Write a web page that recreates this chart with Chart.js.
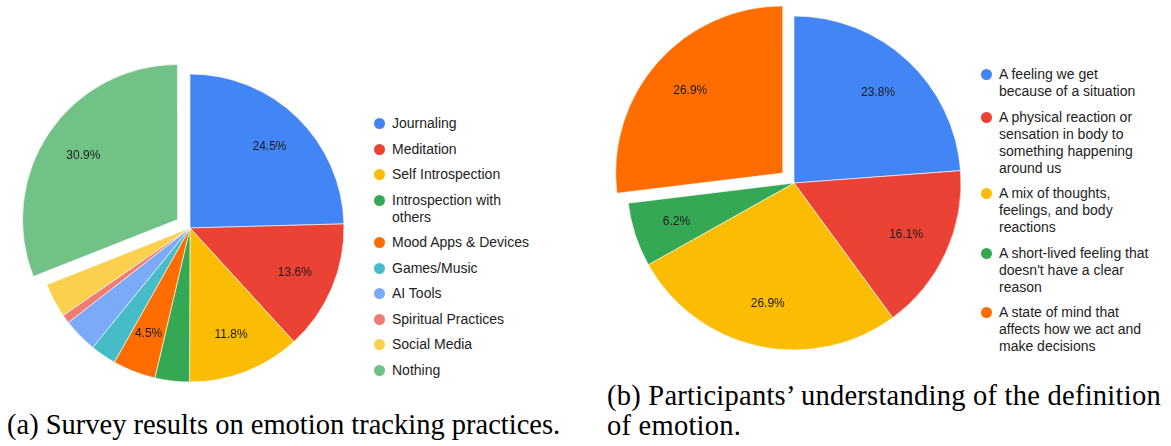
<!doctype html>
<html lang="en">

<head>
  <meta charset="UTF-8" />
  <script src="https://cdn.jsdelivr.net/npm/chart.js"></script>
  <title>Emotion survey</title>
  <style>
    body { margin: 0; width: 1171px; height: 446px; background: #fff; position: relative; overflow: hidden; }
    .pie { position: absolute; }
    .legend { position: absolute; list-style: none; margin: 0; padding: 0;
      font: 14px "Liberation Sans", Arial, sans-serif; line-height: 17px; color: #222; }
    .legend li { position: relative; margin-bottom: 8.5px; }
    .legend .dot { position: absolute; left: -18px; top: 3px; width: 11px; height: 11px; border-radius: 50%; }
    .caption { position: absolute; margin: 0; font: 28.5px "Liberation Serif", "Times New Roman", serif;
      line-height: 30px; color: #000; }
  </style>
</head>

<body>
  <div class="pie" style="left:10px;top:48px;width:360px;height:360px"><canvas id="trackChart"></canvas></div>
  <ul class="legend" id="trackLegend" style="left:392px;top:115px"></ul>
  <p class="caption" style="left:7px;top:410px;white-space:nowrap">(a) Survey results on emotion tracking practices.</p>

  <div class="pie" style="left:610px;top:-1px;width:368px;height:368px"><canvas id="defChart"></canvas></div>
  <ul class="legend" id="defLegend" style="left:999px;top:66px"></ul>
  <p class="caption" style="left:607px;top:381px;width:564px;letter-spacing:0.25px">(b) Participants’ understanding of the definition<br>of emotion.</p>

  <script>
    // (a) emotion tracking practices, percent of respondents
    const trackLabels = ["Journaling", "Meditation", "Self Introspection", ["Introspection with", "others"],
      "Mood Apps & Devices", "Games/Music", "AI Tools", "Spiritual Practices", "Social Media", "Nothing"];
    const trackValues = [24.5, 13.6, 11.8, 3.6, 4.5, 2.7, 3.6, 0.9, 3.6, 30.9];
    const trackColors = ["#4285f4", "#ea4335", "#fbbc04", "#34a853", "#ff6d01",
      "#46bdc6", "#7baaf7", "#f07b72", "#fcd04f", "#71c287"];

    // (b) definition of emotion, percent of participants
    const defLabels = [
      ["A feeling we get", "because of a situation"],
      ["A physical reaction or", "sensation in body to", "something happening", "around us"],
      ["A mix of thoughts,", "feelings, and body", "reactions"],
      ["A short-lived feeling that", "doesn't have a clear", "reason"],
      ["A state of mind that", "affects how we act and", "make decisions"]
    ];
    const defValues = [23.8, 16.1, 26.9, 6.2, 26.9];
    const defColors = ["#4285f4", "#ea4335", "#fbbc04", "#34a853", "#ff6d01"];

    // percentage text inside each slice big enough to hold it
    const sliceLabels = {
      id: "sliceLabels",
      afterDatasetsDraw(chart) {
        const ctx = chart.ctx;
        const values = chart.data.datasets[0].data;
        ctx.save();
        ctx.font = "12px 'Liberation Sans', Arial, sans-serif";
        ctx.fillStyle = "#1a1a1a";
        ctx.textAlign = "center";
        ctx.textBaseline = "middle";
        chart.getDatasetMeta(0).data.forEach((arc, i) => {
          if (values[i] < 4) return;
          const mid = (arc.startAngle + arc.endAngle) / 2;
          const r = arc.outerRadius * 0.74 + (arc.options.offset || 0) / 4;
          ctx.fillText(values[i].toFixed(1) + "%", arc.x + Math.cos(mid) * r, arc.y + Math.sin(mid) * r);
        });
        ctx.restore();
      }
    };

    function makePie(id, labels, values, colors, radius, explode) {
      return new Chart(document.getElementById(id), {
        type: "pie",
        data: {
          labels: labels,
          datasets: [{
            data: values,
            backgroundColor: colors,
            borderColor: "#ffffff",
            borderWidth: 0.6,
            offset: values.map((v, i) => (i === explode ? 60 : 0))
          }]
        },
        options: {
          responsive: true,
          maintainAspectRatio: false,
          animation: false,
          radius: radius,
          layout: { padding: 0 },
          plugins: { legend: { display: false }, tooltip: { enabled: false } }
        },
        plugins: [sliceLabels]
      });
    }

    function makeLegend(id, labels, colors) {
      const ul = document.getElementById(id);
      labels.forEach((lab, i) => {
        const li = document.createElement("li");
        li.innerHTML = `<span class="dot" style="background:${colors[i]}"></span>` +
          [].concat(lab).join("<br>");
        ul.appendChild(li);
      });
    }

    makePie("trackChart", trackLabels, trackValues, trackColors, 154, 9);
    makePie("defChart", defLabels, defValues, defColors, 167, 4);
    makeLegend("trackLegend", trackLabels, trackColors);
    makeLegend("defLegend", defLabels, defColors);
  </script>
</body>

</html>
